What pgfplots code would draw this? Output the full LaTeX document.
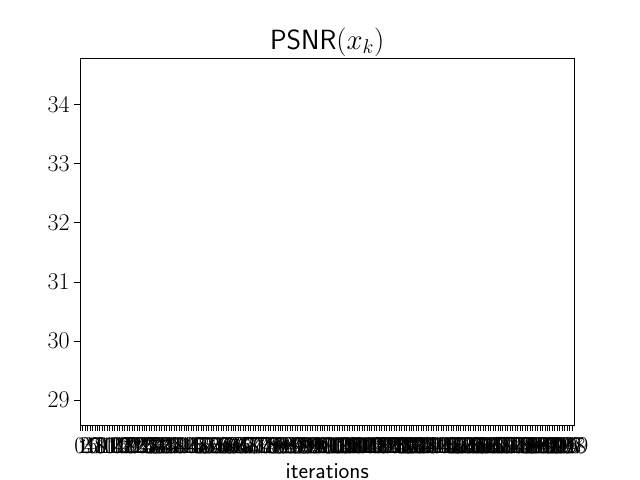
\documentclass[border=0pt]{standalone}
\usepackage{pgfplots}
\pgfplotsset{compat=1.18}
\begin{document}
\begin{tikzpicture}[x=1pt,y=1pt]
\path[use as bounding box] (-57.6,-39.6) rectangle (403.2,306);
\begin{axis}[
  at={(0,0)}, anchor=south west,
  scale only axis,
  width=356pt, height=264pt,
  xmin=0, xmax=200,
  ymin=28.58, ymax=34.78,
  xtick={0,1,...,199},
  ytick={29,30,31,32,33,34},
  tick style={black, thin},
  major tick length=4pt,
  tick align=outside,
  xtick pos=bottom, ytick pos=left,
  tick label style={font=\fontsize{16}{18}\selectfont},
  xticklabel style={yshift=-2pt},
  title={\sffamily PSNR$(x_k)$},
  title style={font=\fontsize{20}{24}\selectfont, yshift=-8pt},
  xlabel={\sffamily iterations},
  xlabel style={font=\fontsize{16.5}{19}\selectfont, yshift=0pt},
  axis line style={black, semithick},
]
\addplot[draw=none, forget plot] coordinates {(0,28.86) (199,34.5)};
\end{axis}
\end{tikzpicture}
\end{document}
